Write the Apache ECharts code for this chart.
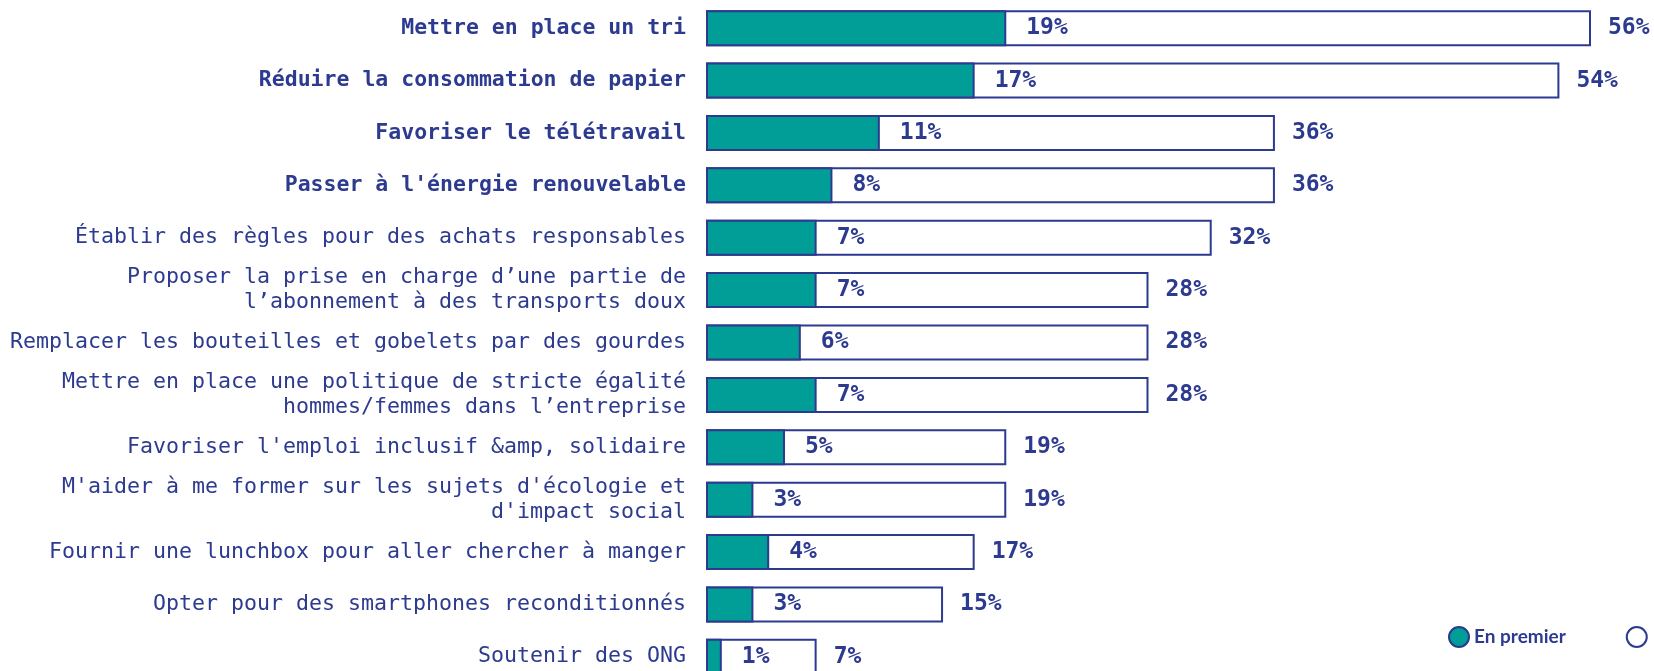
<!DOCTYPE html>
<html>
<head>
<meta charset="utf-8">
<script src="https://cdn.jsdelivr.net/npm/echarts@6/dist/echarts.min.js"></script>
<style>
  html, body { margin: 0; padding: 0; background: #fff; overflow: hidden; }
  #chart { width: 1654px; height: 700px; }
</style>
</head>
<body>
<div id="chart"></div>
<script>
const categories = [
  'Mettre en place un tri',
  'Réduire la consommation de papier',
  'Favoriser le télétravail',
  "Passer à l'énergie renouvelable",
  'Établir des règles pour des achats responsables',
  'Proposer la prise en charge d’une partie de\nl’abonnement à des transports doux',
  'Remplacer les bouteilles et gobelets par des gourdes',
  'Mettre en place une politique de stricte égalité\nhommes/femmes dans l’entreprise',
  "Favoriser l'emploi inclusif &amp, solidaire",
  "M'aider à me former sur les sujets d'écologie et\nd'impact social",
  'Fournir une lunchbox pour aller chercher à manger',
  'Opter pour des smartphones reconditionnés',
  'Soutenir des ONG'
]
const firstValues = [19, 17, 11, 8, 7, 7, 6, 7, 5, 3, 4, 3, 1]
const totalValues = [56, 54, 36, 36, 32, 28, 28, 28, 19, 19, 17, 15, 7]
// rows written in bold on the axis
const boldCount = 4

const NAVY = '#2c3a8f'
const TEAL = '#009e96'

const chart = echarts.init(document.getElementById('chart'))

const valueLabel = {
  show: true,
  position: 'right',
  color: NAVY,
  fontFamily: 'DejaVu Sans Mono',
  fontWeight: 'bold',
  fontSize: 23,
  formatter: (p) => p.value + '%'
}

chart.setOption({
  animation: false,
  grid: { left: 706, top: 2, width: 885, height: 681, outerBoundsMode: 'none' },
  legend: {
    left: 1443,
    top: 621,
    width: 400,
    itemWidth: 20,
    itemHeight: 20,
    itemGap: 60,
    icon: 'circle',
    selectedMode: false,
    textStyle: {
      color: NAVY,
      fontFamily: 'Lato',
      fontWeight: 'bold',
      fontSize: 19,
      width: 110
    },
    data: [
      { name: 'En premier' },
      { name: 'Au total', textStyle: { padding: [0, 0, 0, 12] } }
    ]
  },
  xAxis: {
    type: 'value',
    min: 0,
    max: 56,
    show: false
  },
  yAxis: {
    type: 'category',
    inverse: true,
    data: categories,
    axisLine: { show: false },
    axisTick: { show: false },
    axisLabel: {
      margin: 20,
      color: NAVY,
      fontFamily: 'DejaVu Sans Mono',
      fontSize: 21.6,
      lineHeight: 25,
      formatter: (value, index) => index < boldCount ? '{b|' + value + '}' : value,
      rich: {
        b: {
          color: NAVY,
          fontFamily: 'DejaVu Sans Mono',
          fontWeight: 'bold',
          fontSize: 21.5
        }
      }
    }
  },
  series: [
    {
      name: 'Au total',
      type: 'bar',
      data: totalValues,
      barWidth: 36,
      itemStyle: { color: '#fff', borderColor: NAVY, borderWidth: 2 },
      label: Object.assign({}, valueLabel, { distance: 17 }),
      z: 1
    },
    {
      name: 'En premier',
      type: 'bar',
      data: firstValues,
      barWidth: 36,
      barGap: '-100%',
      itemStyle: { color: TEAL, borderColor: NAVY, borderWidth: 2 },
      label: Object.assign({}, valueLabel, { distance: 20 }),
      z: 2
    }
  ]
})
</script>
</body>
</html>
